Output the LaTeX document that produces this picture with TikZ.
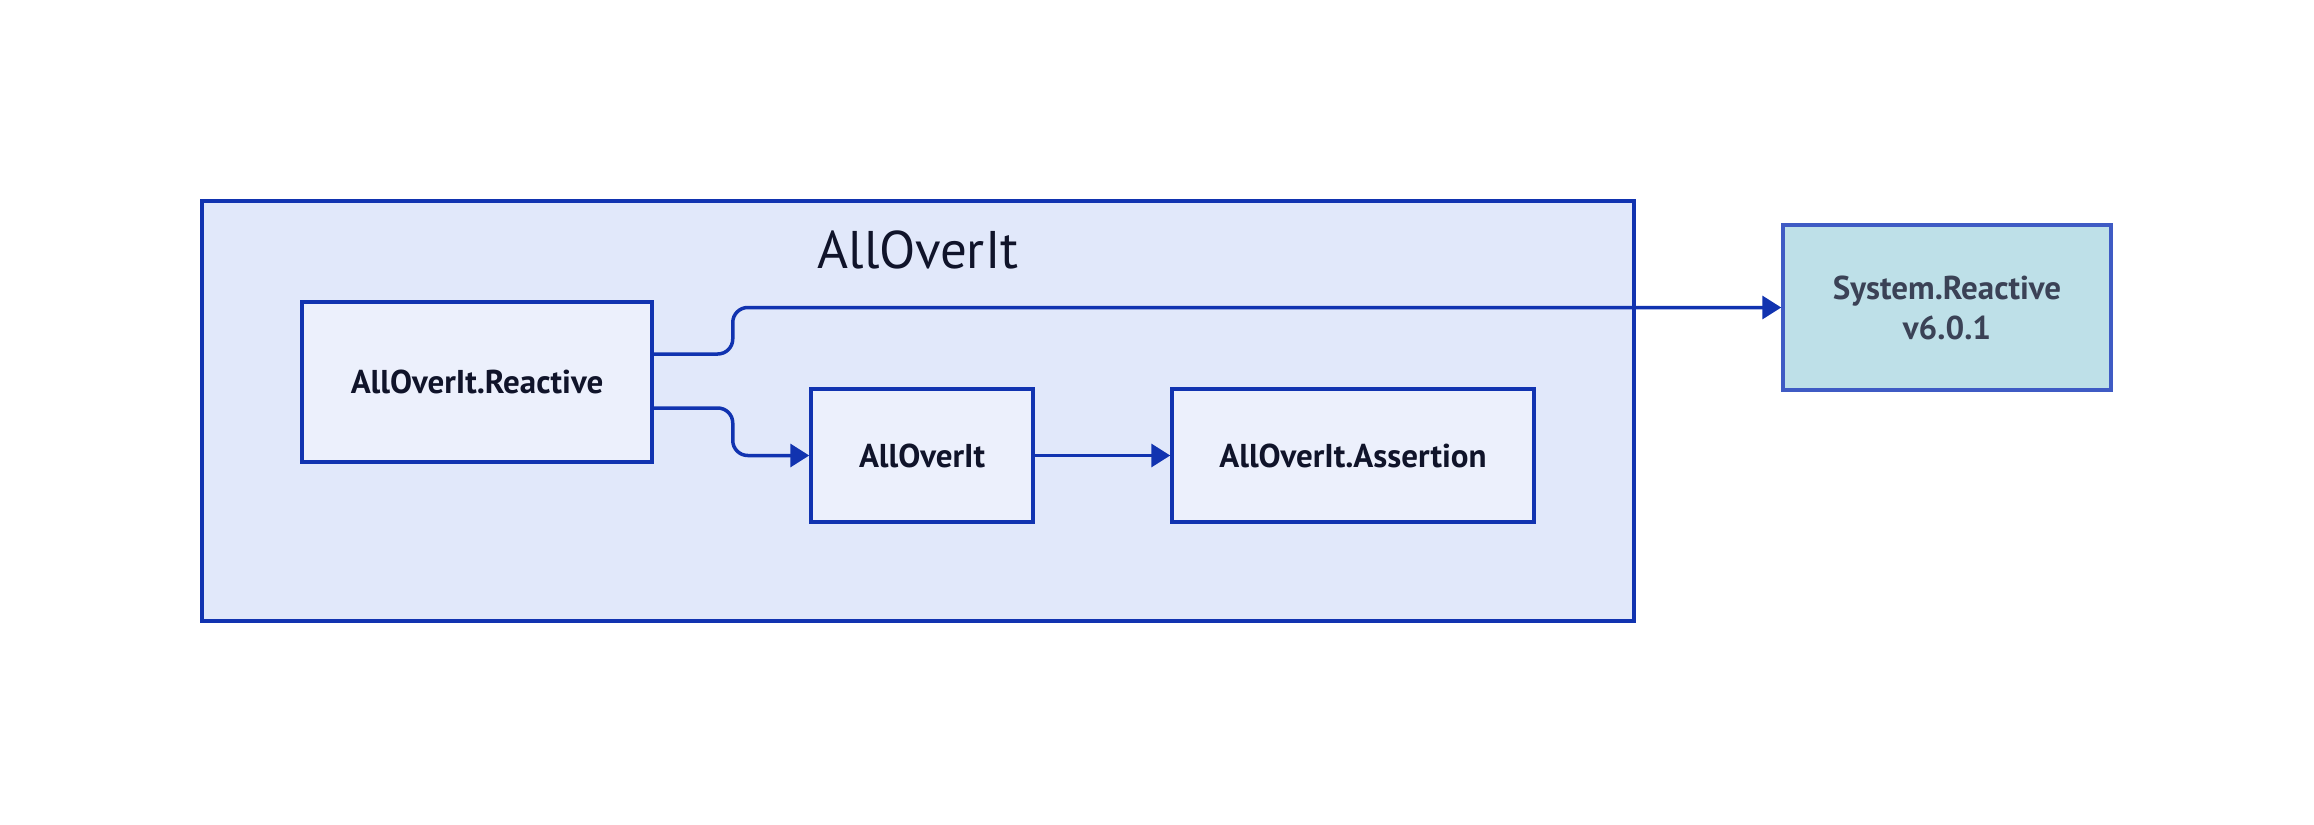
\documentclass[tikz,border=0pt]{standalone}
\usepackage{fontspec}
\setmainfont{PT Sans}
\usetikzlibrary{arrows.meta}
\definecolor{bordblue}{HTML}{1133B0}
\definecolor{outerfill}{HTML}{E1E8FA}
\definecolor{innerfill}{HTML}{ECF0FC}
\definecolor{sysfill}{HTML}{BEE0E8}
\definecolor{sysbord}{HTML}{3F5BC4}
\definecolor{systext}{HTML}{3B4256}
\definecolor{maintext}{HTML}{10142A}
\tikzset{
  pkg/.style={draw=bordblue, fill=innerfill, line width=3.5pt, inner sep=0pt,
    text=maintext, font=\fontsize{33}{38}\selectfont\bfseries, align=center},
  extpkg/.style={draw=sysbord, fill=sysfill, line width=3.5pt, inner sep=0pt,
    text=systext, font=\fontsize{33}{40}\selectfont\bfseries, align=center},
  conn/.style={draw=bordblue, line width=3.5pt, rounded corners=15pt,
    -{Triangle[length=19pt,width=23pt]}}
}
\begin{document}
\begin{tikzpicture}[x=1pt,y=-1pt]
\useasboundingbox[fill=white] (0,0) rectangle (2314,824);
\node[draw=bordblue, fill=outerfill, line width=3.5pt, minimum width=1432pt, minimum height=420pt, inner sep=0pt] (outer) at (918,411) {};
\node[text=maintext, font=\fontsize{53}{60}\selectfont, inner sep=0pt] (title) at (918,250) {AllOverIt};
\node[pkg, minimum width=350pt, minimum height=160pt] (reac) at (477,382) {AllOverIt.Reactive};
\node[pkg, minimum width=222pt, minimum height=133pt] (aoi) at (922,455.5) {AllOverIt};
\node[pkg, minimum width=362pt, minimum height=133pt] (asrt) at (1353,455.5) {AllOverIt.Assertion};
\node[extpkg, minimum width=328pt, minimum height=165pt] (sys) at (1947,307.5) {System.Reactive\\v6.0.1};
\draw[conn] ([yshift=28pt]reac.east) -- ++(79,0) |- (sys.west);
\draw[conn] ([yshift=-26pt]reac.east) -- ++(79,0) |- (aoi.west);
\draw[conn] (aoi.east) -- (asrt.west);
\end{tikzpicture}
\end{document}
